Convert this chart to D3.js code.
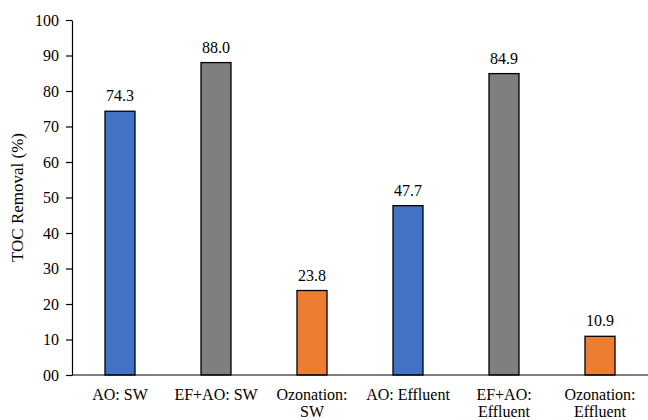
<!DOCTYPE html>
<html>
<head>
<meta charset="utf-8">
<script src="https://cdn.jsdelivr.net/npm/d3@7/dist/d3.min.js"></script>
<style>
html, body { margin: 0; padding: 0; background: #fff; }
svg { display: block; }
</style>
</head>
<body>
<svg id="chart" width="648" height="420"></svg>
<script>
const categories = [["AO: SW"], ["EF+AO: SW"], ["Ozonation:", "SW"], ["AO: Effluent"], ["EF+AO:", "Effluent"], ["Ozonation:", "Effluent"]];
const values = [74.3, 88.0, 23.8, 47.7, 84.9, 10.9];
const colors = ["#4472C4", "#7F7F7F", "#ED7D31", "#4472C4", "#7F7F7F", "#ED7D31"];
const yTicks = [0, 10, 20, 30, 40, 50, 60, 70, 80, 90, 100];
const yTickLabels = ["00", "10", "20", "30", "40", "50", "60", "70", "80", "90", "100"];
const yTitle = "TOC Removal (%)";

(function () {
const FONT = '"Liberation Serif"';
const svg = d3.select("#chart");
const mLeft = 72, mRight = 648, mTop = 20, mBottom = 375;

const x = d3.scaleBand().domain(d3.range(values.length)).range([mLeft, mRight]).paddingInner(0.6875).paddingOuter(0.34375);
const y = d3.scaleLinear().domain([0, 100]).range([mBottom, mTop]);

// bars
svg.selectAll("rect.bar").data(values).enter().append("rect")
  .attr("class", "bar")
  .attr("x", (d, i) => x(i))
  .attr("y", d => y(d))
  .attr("width", x.bandwidth())
  .attr("height", d => y(0) - y(d))
  .attr("fill", (d, i) => colors[i])
  .attr("stroke", "#000")
  .attr("stroke-width", 1.3);

// value labels
svg.selectAll("text.val").data(values).enter().append("text")
  .attr("class", "val")
  .attr("x", (d, i) => x(i) + x.bandwidth() / 2)
  .attr("y", d => y(d) - 10)
  .attr("text-anchor", "middle")
  .style("font-family", FONT)
  .style("font-size", "16px")
  .attr("fill", "#000")
  .text(d => d.toFixed(1));

// y axis
const yAxis = d3.axisLeft(y).tickValues(yTicks).tickFormat((d, i) => yTickLabels[i]).tickSize(6).tickSizeOuter(0).tickPadding(7);
const gy = svg.append("g").attr("transform", `translate(${mLeft},0)`).call(yAxis);
gy.select(".domain").attr("stroke", "#000").attr("stroke-width", 1.2);
gy.selectAll(".tick line").attr("stroke", "#000").attr("stroke-width", 1.2);
gy.selectAll(".tick text").style("font-size", "16px").style("font-family", FONT).attr("fill", "#000");

// x axis line
svg.append("line").attr("x1", mLeft).attr("x2", mRight).attr("y1", y(0)).attr("y2", y(0))
  .attr("stroke", "#000").attr("stroke-width", 1.2);

// category labels
const cat = svg.selectAll("text.cat").data(categories).enter().append("text")
  .attr("class", "cat")
  .attr("text-anchor", "middle")
  .style("font-family", FONT)
  .style("font-size", "16px")
  .attr("fill", "#000");
cat.selectAll("tspan").data((d, i) => d.map(t => ({t, i}))).enter().append("tspan")
  .attr("x", d => x(d.i) + x.bandwidth() / 2)
  .attr("y", (d, j) => 400 + j * 17)
  .text(d => d.t);

// y title
svg.append("text")
  .attr("transform", `translate(23,${(mTop + mBottom) / 2}) rotate(-90)`)
  .attr("text-anchor", "middle")
  .style("font-family", FONT)
  .style("font-size", "17px")
  .attr("fill", "#000")
  .text(yTitle);
})();
</script>
</body>
</html>
